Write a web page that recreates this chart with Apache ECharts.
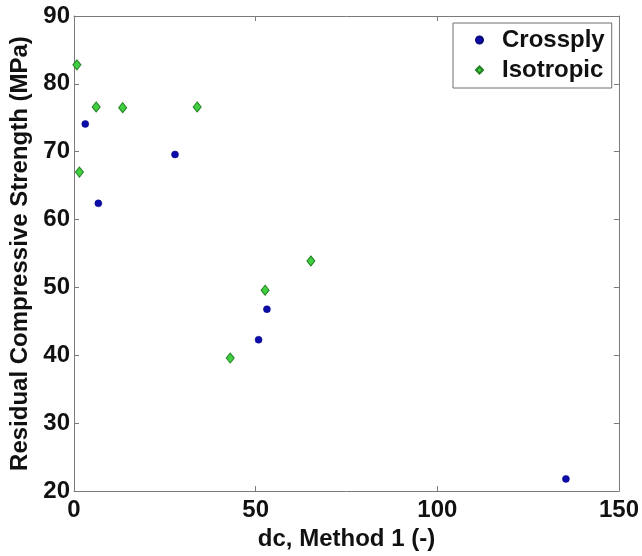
<!DOCTYPE html>
<html>
<head>
<meta charset="utf-8">
<title>Residual Compressive Strength vs dc</title>
<script src="https://cdn.jsdelivr.net/npm/echarts@6/dist/echarts.min.js"></script>
<style>
  html, body { margin: 0; padding: 0; background: #fff; }
  #chart { width: 642px; height: 556px; }
</style>
</head>
<body>
<div id="chart"></div>
<script>
// Damage parameter dc (Method 1) vs residual compressive strength (MPa)
const crossplyDc       = [3.1, 6.7, 27.8, 50.8, 53.1, 135.4];
const crossplyStrength = [74.1, 62.4, 69.6, 42.3, 46.8, 21.8];

const isotropicDc       = [0.8, 1.5, 6.1, 13.4, 33.9, 43.0, 52.6, 65.2];
const isotropicStrength = [82.8, 67.0, 76.6, 76.5, 76.6, 39.6, 49.6, 53.9];

const xTicks = [0, 50, 100, 150];
const yTicks = [20, 30, 40, 50, 60, 70, 80, 90];

const pairs = (xs, ys) => xs.map((x, i) => [x, ys[i]]);

const FONT = '"Liberation Sans", Arial, sans-serif';
const AXIS_GREY = '#7a7a7a';

const boxAxis = (extra) => Object.assign({
  type: 'value',
  axisLine: { show: true, onZero: false, lineStyle: { color: AXIS_GREY, width: 1 } },
  axisTick: { show: true, inside: true, length: 5, lineStyle: { color: AXIS_GREY } },
  splitLine: { show: false },
  axisLabel: { show: false }
}, extra);

const chart = echarts.init(document.getElementById('chart'), null, { renderer: 'canvas' });

chart.setOption({
  backgroundColor: '#ffffff',
  animation: false,
  textStyle: { fontFamily: FONT },
  grid: { left: 74, top: 16, width: 546, height: 480, containLabel: false },
  legend: {
    left: 453,
    top: 23,
    orient: 'vertical',
    backgroundColor: '#ffffff',
    borderColor: '#6e6e6e',
    borderWidth: 1,
    borderRadius: 0,
    padding: [4, 7, 5, 22],
    itemWidth: 7,
    itemHeight: 7,
    itemGap: 4,
    textStyle: {
      fontFamily: FONT, fontSize: 24, fontWeight: 'bold', color: '#111',
      lineHeight: 26, padding: [0, 0, 0, 14]
    },
    data: [
      { name: 'Crossply', icon: 'circle' },
      { name: 'Isotropic', icon: 'diamond' }
    ]
  },
  xAxis: [
    boxAxis({
      position: 'bottom',
      min: 0, max: 150, interval: 50,
      name: 'dc, Method 1 (-)',
      nameLocation: 'middle',
      nameGap: 34,
      nameTextStyle: { fontFamily: FONT, fontSize: 24, fontWeight: 'bold', color: '#111' },
      axisLabel: {
        show: true, margin: 7, fontFamily: FONT, fontSize: 24, fontWeight: 'bold', color: '#111',
        formatter: (v) => xTicks.includes(v) ? String(v) : ''
      }
    }),
    boxAxis({ position: 'top', min: 0, max: 150, interval: 50 })
  ],
  yAxis: [
    boxAxis({
      position: 'left',
      min: 20, max: 90, interval: 10,
      name: 'Residual Compressive Strength (MPa)',
      nameLocation: 'middle',
      nameGap: 39,
      nameTextStyle: { fontFamily: FONT, fontSize: 24, fontWeight: 'bold', color: '#111' },
      axisLabel: {
        show: true, margin: 4, fontFamily: FONT, fontSize: 24, fontWeight: 'bold', color: '#111',
        formatter: (v) => yTicks.includes(v) ? String(v) : ''
      }
    }),
    boxAxis({ position: 'right', min: 20, max: 90, interval: 10 })
  ],
  series: [
    {
      name: 'Crossply',
      type: 'scatter',
      xAxisIndex: 0, yAxisIndex: 0,
      symbol: 'circle',
      symbolSize: 7,
      itemStyle: { color: '#0c0cab', borderColor: '#06067a', borderWidth: 0.5, opacity: 1 },
      data: pairs(crossplyDc, crossplyStrength)
    },
    {
      name: 'Isotropic',
      type: 'scatter',
      xAxisIndex: 0, yAxisIndex: 0,
      symbol: 'diamond',
      symbolSize: [8, 10],
      itemStyle: { color: '#3fcf3f', borderColor: '#237f23', borderWidth: 1, opacity: 1 },
      data: pairs(isotropicDc, isotropicStrength)
    }
  ]
});
</script>
</body>
</html>
